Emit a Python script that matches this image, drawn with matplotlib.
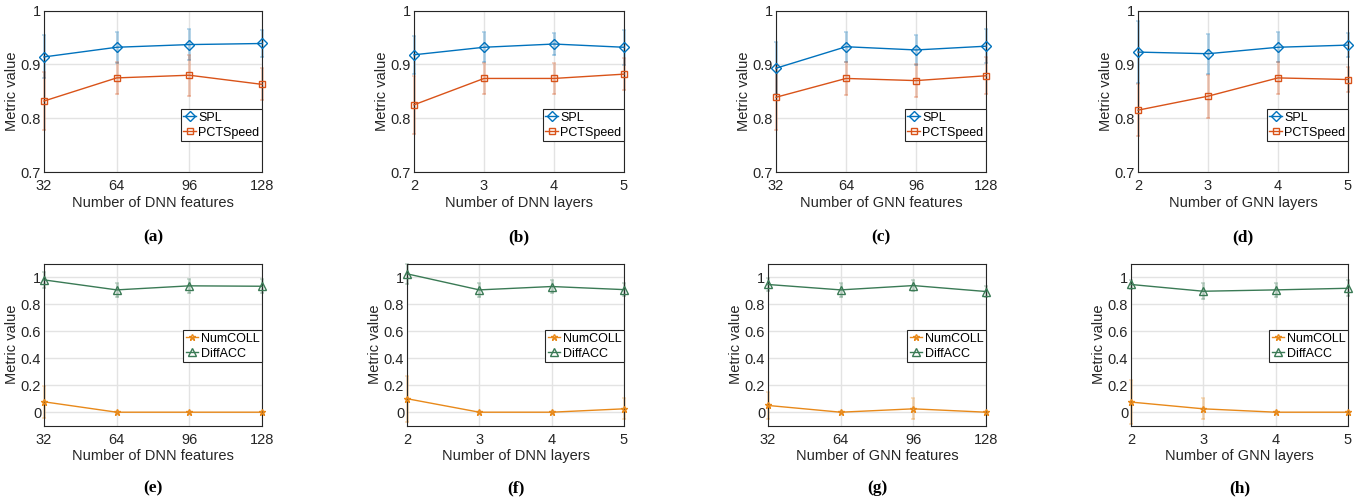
import numpy as np
import matplotlib
matplotlib.use('Agg')
import matplotlib.pyplot as plt

plt.rcParams['font.family'] = ['Liberation Sans', 'DejaVu Sans']

x_feat = [32, 64, 96, 128]
x_layers = [2, 3, 4, 5]

# top row: SPL / PCTSpeed
spl_a = [0.914, 0.932, 0.937, 0.939]
spl_a_err = [0.040, 0.029, 0.029, 0.025]
pct_a = [0.832, 0.875, 0.880, 0.863]
pct_a_err = [0.054, 0.030, 0.038, 0.030]

spl_b = [0.918, 0.932, 0.938, 0.932]
spl_b_err = [0.035, 0.028, 0.021, 0.033]
pct_b = [0.825, 0.874, 0.874, 0.882]
pct_b_err = [0.054, 0.028, 0.028, 0.030]

spl_c = [0.893, 0.933, 0.927, 0.934]
spl_c_err = [0.048, 0.028, 0.028, 0.032]
pct_c = [0.839, 0.874, 0.870, 0.879]
pct_c_err = [0.060, 0.030, 0.030, 0.034]

spl_d = [0.923, 0.920, 0.932, 0.936]
spl_d_err = [0.058, 0.037, 0.028, 0.022]
pct_d = [0.815, 0.841, 0.875, 0.872]
pct_d_err = [0.048, 0.040, 0.029, 0.024]

# bottom row: NumCOLL / DiffACC
coll_e = [0.077, 0.0, 0.0, 0.0]
coll_e_err = [0.12, 0.0, 0.0, 0.0]
acc_e = [0.980, 0.906, 0.936, 0.933]
acc_e_err = [0.06, 0.05, 0.05, 0.05]

coll_f = [0.10, 0.0, 0.0, 0.025]
coll_f_err = [0.17, 0.0, 0.0, 0.077]
acc_f = [1.025, 0.906, 0.931, 0.908]
acc_f_err = [0.075, 0.05, 0.05, 0.05]

coll_g = [0.05, 0.0, 0.025, 0.0]
coll_g_err = [0.10, 0.0, 0.077, 0.0]
acc_g = [0.946, 0.906, 0.938, 0.894]
acc_g_err = [0.05, 0.05, 0.04, 0.04]

coll_h = [0.075, 0.025, 0.0, 0.0]
coll_h_err = [0.16, 0.077, 0.0, 0.0]
acc_h = [0.946, 0.896, 0.906, 0.918]
acc_h_err = [0.03, 0.06, 0.05, 0.06]

xlabels = ['Number of DNN features', 'Number of DNN layers',
           'Number of GNN features', 'Number of GNN layers']
letters_top = ['(a)', '(b)', '(c)', '(d)']
letters_bot = ['(e)', '(f)', '(g)', '(h)']

C_SPL = '#0072BD'
C_PCT = '#D95319'
C_COLL = '#E8891A'
C_ACC = '#3A7A55'
DARK = '#262626'

W, H = 1363, 500
fig = plt.figure(figsize=(W / 100, H / 100), dpi=100)

# axes boxes in pixels: (left, right)
top_lr = [(44, 262), (414, 624), (776, 986), (1138, 1348)]
bot_lr = [(44, 262), (407, 624), (768, 986), (1131, 1348)]
top_tb = (10.7, 172)
bot_tb = (263.7, 425.7)


def make_ax(lr, tb):
    l, r = lr
    t, b = tb
    return fig.add_axes([l / W, 1 - b / H, (r - l) / W, (b - t) / H])


def style_ax(ax, xs, xlabel):
    ax.set_xlim(xs[0], xs[-1])
    ax.set_xticks(xs)
    ax.grid(True, color='#e3e3e3', linewidth=1.0)
    ax.set_axisbelow(True)
    for s in ax.spines.values():
        s.set_color(DARK)
        s.set_linewidth(0.8)
    ax.tick_params(direction='in', length=0, labelsize=10.5, colors=DARK)
    ax.tick_params(axis='x', pad=5)
    ax.tick_params(axis='y', pad=2)
    ax.set_xlabel(xlabel, fontsize=10.5, color=DARK, labelpad=2)
    ax.set_ylabel('Metric value', fontsize=10.5, color=DARK, labelpad=1)


def series(ax, xs, ys, errs, color, marker, label, ms):
    _, caps, bars = ax.errorbar(xs, ys, yerr=errs, fmt='none', ecolor=color, alpha=0.3,
                                elinewidth=2.0, capsize=1.5, capthick=1.2, zorder=2)
    for art in list(caps) + list(bars):
        art.set_clip_on(False)
    ax.plot(xs, ys, color=color, marker=marker, ms=ms, mfc='none', mew=1.0,
            lw=1.0, label=label, clip_on=False, zorder=3)


def legend(ax, y_anchor):
    leg = ax.legend(loc='upper right', bbox_to_anchor=(1.0, y_anchor), fontsize=9,
                    fancybox=False, framealpha=1, edgecolor=DARK, handlelength=1.0,
                    handletextpad=0.2, borderpad=0.2, labelspacing=0.25,
                    borderaxespad=0)
    leg.get_frame().set_linewidth(0.8)


top_data = [
    (x_feat, spl_a, spl_a_err, pct_a, pct_a_err),
    (x_layers, spl_b, spl_b_err, pct_b, pct_b_err),
    (x_feat, spl_c, spl_c_err, pct_c, pct_c_err),
    (x_layers, spl_d, spl_d_err, pct_d, pct_d_err),
]
bot_data = [
    (x_feat, coll_e, coll_e_err, acc_e, acc_e_err),
    (x_layers, coll_f, coll_f_err, acc_f, acc_f_err),
    (x_feat, coll_g, coll_g_err, acc_g, acc_g_err),
    (x_layers, coll_h, coll_h_err, acc_h, acc_h_err),
]

for i, (xs, s, se, p, pe) in enumerate(top_data):
    ax = make_ax(top_lr[i], top_tb)
    series(ax, xs, s, se, C_SPL, 'D', 'SPL', 5)
    series(ax, xs, p, pe, C_PCT, 's', 'PCTSpeed', 5)
    ax.set_ylim(0.7, 1.0)
    ax.set_yticks([0.7, 0.8, 0.9, 1.0])
    ax.set_yticklabels(['0.7', '0.8', '0.9', '1'])
    style_ax(ax, xs, xlabels[i])
    legend(ax, 0.39)
    l, r = top_lr[i]
    fig.text((l + r) / 2 / W, 1 - 237 / H, letters_top[i], ha='center', va='center',
             fontsize=12.5, fontweight='bold', family='Liberation Serif')

for i, (xs, c, ce, a, ae) in enumerate(bot_data):
    ax = make_ax(bot_lr[i], bot_tb)
    series(ax, xs, c, ce, C_COLL, '*', 'NumCOLL', 5)
    series(ax, xs, a, ae, C_ACC, '^', 'DiffACC', 6)
    ax.set_ylim(-0.1, 1.1)
    ax.set_yticks([0, 0.2, 0.4, 0.6, 0.8, 1.0])
    ax.set_yticklabels(['0', '0.2', '0.4', '0.6', '0.8', '1'])
    style_ax(ax, xs, xlabels[i])
    legend(ax, 0.59)
    l, r = bot_lr[i]
    fig.text((l + r) / 2 / W, 1 - 488 / H, letters_bot[i], ha='center', va='center',
             fontsize=12.5, fontweight='bold', family='Liberation Serif')

fig.savefig('out.png', dpi=100)
